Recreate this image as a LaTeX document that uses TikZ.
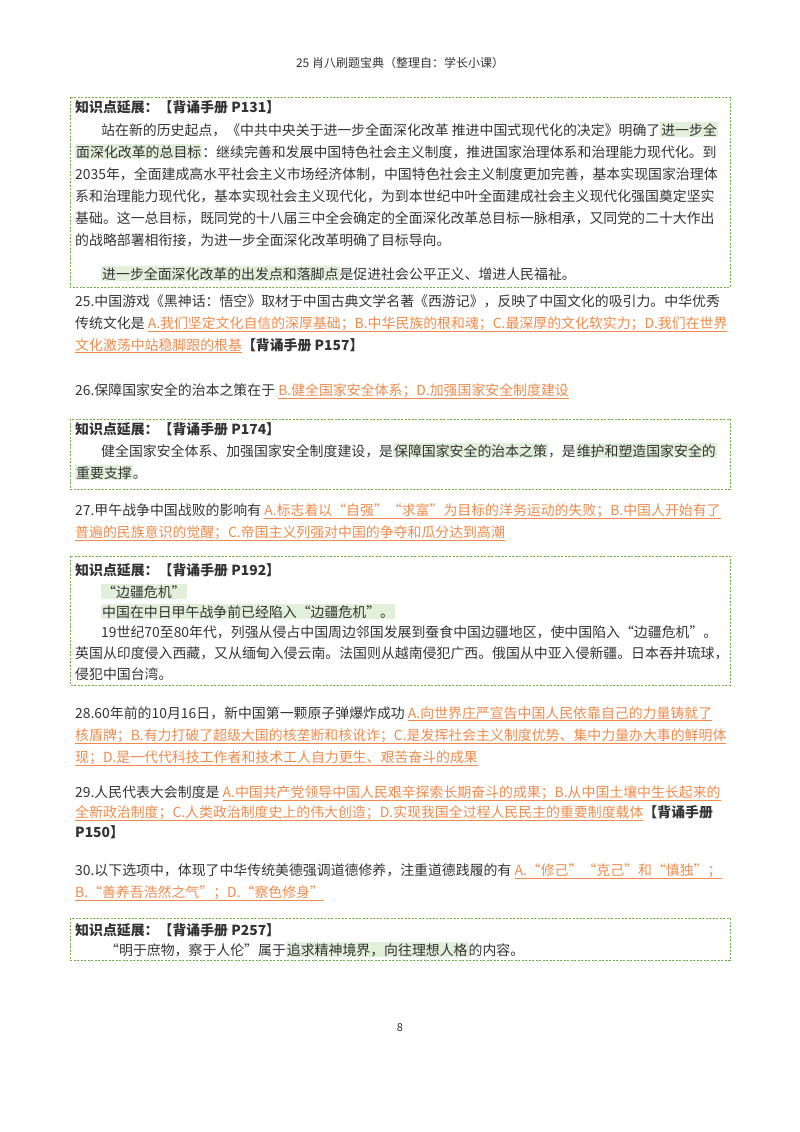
\documentclass[tikz,border=0pt]{standalone}
\usepackage{fontspec}
\setmainfont{Noto Sans CJK SC}
\definecolor{inkgray}{HTML}{333333}
\definecolor{ansorange}{HTML}{F08A4B}
\definecolor{hlgreen}{HTML}{E2EFDA}
\definecolor{boxgreen}{HTML}{70AD47}
\newcommand{\hl}[1]{{\setlength{\fboxsep}{1pt}\colorbox{hlgreen}{#1}}}
\newcommand{\ans}[1]{{\color{ansorange}$\underline{\hbox{#1}}$}}
\newcommand{\src}[1]{\textbf{#1}}

\begin{document}
\begin{tikzpicture}[x=1pt, y=-1pt,
    line/.style={anchor=base west, inner sep=0pt, text=inkgray, font=\fontsize{13.9}{17}\selectfont},
    kbox/.style={draw=boxgreen, dash pattern=on 2pt off 1.5pt, line width=0.7pt}]
    \useasboundingbox (0,0) rectangle (800,1132);

    \node[line, anchor=base, font=\fontsize{12}{14}\selectfont] (head) at (400,67) {25 肖八刷题宝典（整理自：学长小课）};

    % box P131
    \draw[kbox] (70,97) rectangle (730,287);
    \node[line] (a0) at (75,112) {\src{知识点延展：【背诵手册 P131】}};
    \node[line] (a1) at (101,135) {站在新的历史起点，《中共中央关于进一步全面深化改革 推进中国式现代化的决定》明确了\hl{进一步全}};
    \node[line] (a2) at (75,157) {\hl{面深化改革的总目标}：继续完善和发展中国特色社会主义制度，推进国家治理体系和治理能力现代化。到};
    \node[line] (a3) at (75,179) {2035年，全面建成高水平社会主义市场经济体制，中国特色社会主义制度更加完善，基本实现国家治理体};
    \node[line] (a4) at (75,201) {系和治理能力现代化，基本实现社会主义现代化，为到本世纪中叶全面建成社会主义现代化强国奠定坚实};
    \node[line] (a5) at (75,223) {基础。这一总目标，既同党的十八届三中全会确定的全面深化改革总目标一脉相承，又同党的二十大作出};
    \node[line] (a6) at (75,245) {的战略部署相衔接，为进一步全面深化改革明确了目标导向。};
    \node[line] (a7) at (101,279) {\hl{进一步全面深化改革的出发点和落脚点}是促进社会公平正义、增进人民福祉。};

    % questions 25, 26
    \node[line] (q25a) at (75,306) {25.中国游戏《黑神话：悟空》取材于中国古典文学名著《西游记》，反映了中国文化的吸引力。中华优秀};
    \node[line] (q25b) at (75,328) {传统文化是 \ans{A.我们坚定文化自信的深厚基础；B.中华民族的根和魂；C.最深厚的文化软实力；D.我们在世界}};
    \node[line] (q25c) at (75,350) {\ans{文化激荡中站稳脚跟的根基}\src{【背诵手册 P157】}};
    \node[line] (q26) at (75,395) {26.保障国家安全的治本之策在于 \ans{B.健全国家安全体系；D.加强国家安全制度建设}};

    % box P174
    \draw[kbox] (70,419) rectangle (730,489);
    \node[line] (b0) at (75,434) {\src{知识点延展：【背诵手册 P174】}};
    \node[line] (b1) at (101,456) {健全国家安全体系、加强国家安全制度建设，是\hl{保障国家安全的治本之策}，是\hl{维护和塑造国家安全的}};
    \node[line] (b2) at (75,478) {\hl{重要支撑}。};

    % question 27
    \node[line] (q27a) at (75,515) {27.甲午战争中国战败的影响有 \ans{A.标志着以“自强”“求富”为目标的洋务运动的失败；B.中国人开始有了}};
    \node[line] (q27b) at (75,537) {\ans{普遍的民族意识的觉醒；C.帝国主义列强对中国的争夺和瓜分达到高潮}};

    % box P192
    \draw[kbox] (70,556) rectangle (730,685);
    \node[line] (c0) at (75,575) {\src{知识点延展：【背诵手册 P192】}};
    \node[line] (c1) at (101,597) {\hl{“边疆危机”}};
    \node[line] (c2) at (101,617) {\hl{中国在中日甲午战争前已经陷入“边疆危机”。}};
    \node[line] (c3) at (101,637) {19世纪70至80年代，列强从侵占中国周边邻国发展到蚕食中国边疆地区，使中国陷入“边疆危机”。};
    \node[line] (c4) at (75,658) {英国从印度侵入西藏，又从缅甸入侵云南。法国则从越南侵犯广西。俄国从中亚入侵新疆。日本吞并琉球，};
    \node[line] (c5) at (75,679) {侵犯中国台湾。};

    % questions 28, 29, 30
    \node[line] (q28a) at (75,718) {28.60年前的10月16日，新中国第一颗原子弹爆炸成功 \ans{A.向世界庄严宣告中国人民依靠自己的力量铸就了}};
    \node[line] (q28b) at (75,740) {\ans{核盾牌；B.有力打破了超级大国的核垄断和核讹诈；C.是发挥社会主义制度优势、集中力量办大事的鲜明体}};
    \node[line] (q28c) at (75,762) {\ans{现；D.是一代代科技工作者和技术工人自力更生、艰苦奋斗的成果}};
    \node[line] (q29a) at (75,797) {29.人民代表大会制度是 \ans{A.中国共产党领导中国人民艰辛探索长期奋斗的成果；B.从中国土壤中生长起来的}};
    \node[line] (q29b) at (75,817) {\ans{全新政治制度；C.人类政治制度史上的伟大创造；D.实现我国全过程人民民主的重要制度载体}\src{【背诵手册}};
    \node[line] (q29c) at (75,837) {\src{P150】}};
    \node[line] (q30a) at (75,875) {30.以下选项中，体现了中华传统美德强调道德修养，注重道德践履的有 \ans{A.“修己”“克己”和“慎独”；}};
    \node[line] (q30b) at (75,897) {\ans{B.“善养吾浩然之气”；D.“察色修身”}};

    % box P257
    \draw[kbox] (70,918) rectangle (730,960);
    \node[line] (d0) at (75,935) {\src{知识点延展：【背诵手册 P257】}};
    \node[line] (d1) at (105,955) {“明于庶物，察于人伦”属于\hl{追求精神境界，向往理想人格}的内容。};

    \node[line, anchor=base, font=\fontsize{11}{13}\selectfont] (page) at (400,1031) {8};
\end{tikzpicture}
\end{document}
